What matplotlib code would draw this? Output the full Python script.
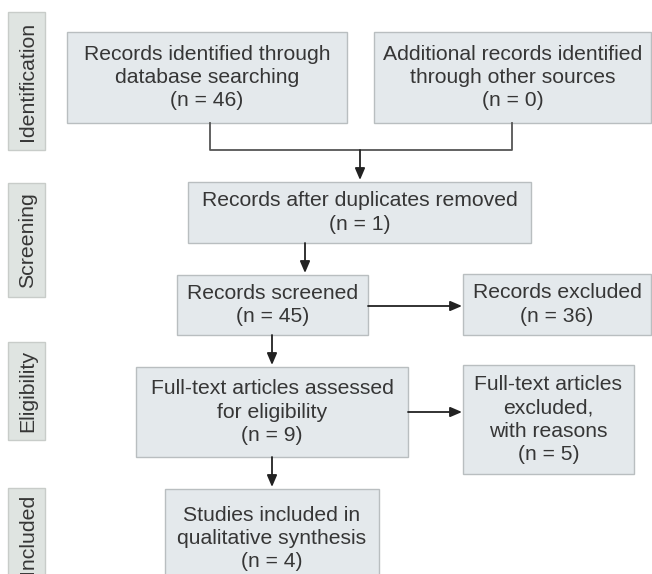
import matplotlib
matplotlib.use("Agg")
import matplotlib.pyplot as plt
from matplotlib.patches import Rectangle

plt.rcParams['font.family'] = ['Liberation Sans', 'DejaVu Sans']

# ------------------------------------------------------------------
# data: PRISMA stages and counts
# ------------------------------------------------------------------
stages = ["Identification", "Screening", "Eligibility", "Included"]
box_labels = [
    "Records identified through\ndatabase searching",
    "Additional records identified\nthrough other sources",
    "Records after duplicates removed",
    "Records screened",
    "Records excluded",
    "Full-text articles assessed\nfor eligibility",
    "Full-text articles\nexcluded,\nwith reasons",
    "Studies included in\nqualitative synthesis",
]
box_counts = [46, 0, 1, 45, 36, 9, 5, 4]

# layout in pixel coords (x0, y0, x1, y1), y downwards; last row runs off the page
stage_pos = [(8, 12, 45, 150), (8, 183, 45, 297), (8, 342, 45, 440), (8, 488, 45, 580)]
box_pos = [
    (67, 32, 347, 123),
    (374, 32, 651, 123),
    (188, 182, 531, 243),
    (177, 275, 368, 335),
    (463, 274, 651, 335),
    (136, 367, 408, 457),
    (463, 365, 634, 474),
    (165, 489, 379, 588),
]

FILL = "#e4e9ec"
EDGE = "#b9bec0"
TXT = "#363636"
LINE = "#555555"

fig = plt.figure(figsize=(6.52, 5.74), dpi=100)
ax = fig.add_axes([0, 0, 1, 1])
ax.set_xlim(0, 652)
ax.set_ylim(574, 0)
ax.axis("off")

for name, (x0, y0, x1, y1) in zip(stages, stage_pos):
    ax.add_patch(Rectangle((x0, y0), x1 - x0, y1 - y0, facecolor="#dfe4e1",
                           edgecolor="#c8ccc9", lw=1))
    ax.text((x0 + x1) / 2 + 1, (y0 + y1) / 2, name, rotation=90,
            ha="center", va="center", fontsize=15.3, color=TXT)

for lab, n, (x0, y0, x1, y1) in zip(box_labels, box_counts, box_pos):
    ax.add_patch(Rectangle((x0, y0), x1 - x0, y1 - y0, facecolor=FILL,
                           edgecolor=EDGE, lw=1))
    ax.text((x0 + x1) / 2, (y0 + y1) / 2, f"{lab}\n(n = {n})", ha="center",
            va="center", fontsize=15.2, color=TXT, linespacing=1.28)


def arrow(x0, y0, x1, y1):
    ax.annotate("", xy=(x1, y1), xytext=(x0, y0),
                arrowprops=dict(arrowstyle="-|>,head_length=0.7,head_width=0.3",
                                color="#222222", lw=1.3, shrinkA=0, shrinkB=0))


# connector from the two identification boxes
ax.plot([210, 210, 512, 512], [123, 150, 150, 123], color=LINE, lw=1.3)
arrow(360, 150, 360, 180)
arrow(305, 243, 305, 273)
arrow(368, 306, 462, 306)
arrow(272, 335, 272, 365)
arrow(408, 412, 462, 412)
arrow(272, 457, 272, 487)

fig.savefig("out.png", dpi=100, facecolor="white")
